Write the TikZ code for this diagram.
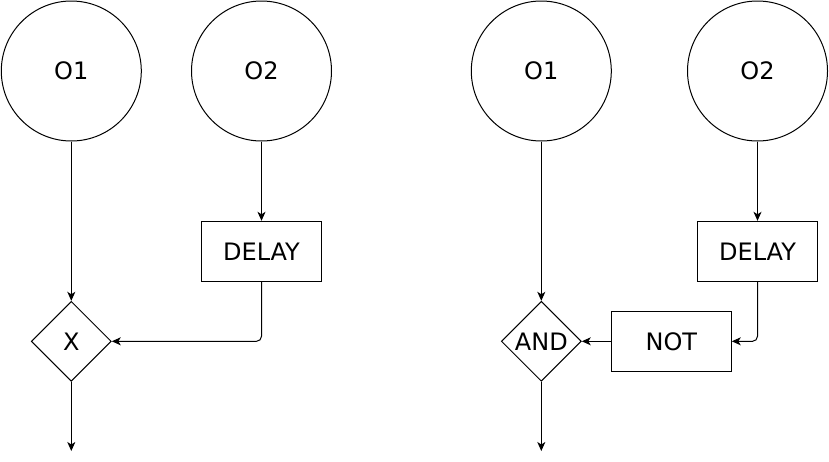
\documentclass[tikz,border=0pt]{standalone}
\usepackage{fontspec}
\setmainfont{DejaVu Sans}
\usetikzlibrary{arrows.meta,shapes.geometric}
\begin{document}
\begin{tikzpicture}[x=1pt,y=-1pt,
  every node/.style={font=\fontsize{24}{28}\selectfont},
  circ/.style={draw,circle,minimum size=140pt,inner sep=0pt,line width=1pt},
  boxn/.style={draw,rectangle,minimum width=120pt,minimum height=60pt,inner sep=0pt,line width=1pt},
  diam/.style={draw,diamond,minimum width=80pt,minimum height=80pt,inner sep=0pt,line width=1pt},
  conn/.style={line width=1pt,-{Stealth[length=9pt,width=8pt,inset=2.5pt]}},
]
\useasboundingbox (0,0) rectangle (829,461);
% left diagram
\node[circ] (o1a) at (71.3,71) {O1};
\node[circ] (o2a) at (261.5,71) {O2};
\node[boxn] (d1) at (261.5,251.3) {DELAY};
\node[diam] (x) at (71.3,341.3) {X};
\coordinate (outa) at (71.3,451);
\draw[conn] (o1a) -- (x);
\draw[conn] (o2a) -- (d1);
\draw[conn,rounded corners=5pt] (d1.south) |- (x.east);
\draw[conn] (x.south) -- (outa);
% right diagram
\node[circ] (o1b) at (541.3,71) {O1};
\node[circ] (o2b) at (757.5,71) {O2};
\node[boxn] (d2) at (757.5,251.3) {DELAY};
\node[boxn] (nt) at (671.3,341.3) {NOT};
\node[diam] (an) at (541.3,341.3) {AND};
\coordinate (outb) at (541.3,451);
\draw[conn] (o1b) -- (an);
\draw[conn] (o2b) -- (d2);
\draw[conn,rounded corners=5pt] (d2.south) |- (nt.east);
\draw[conn] (nt.west) -- (an.east);
\draw[conn] (an.south) -- (outb);
\end{tikzpicture}
\end{document}
